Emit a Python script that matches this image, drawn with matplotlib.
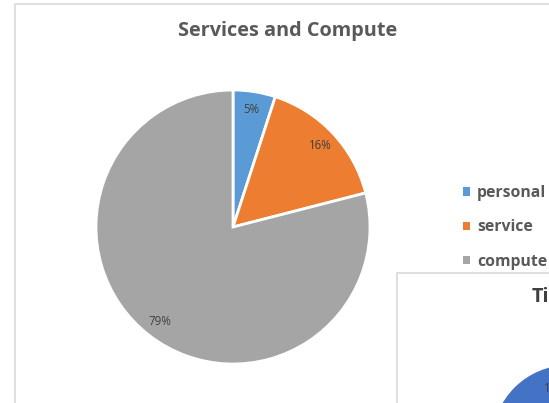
import matplotlib.pyplot as plt
from matplotlib.patches import Patch, Rectangle, Circle

# Data
categories = ["personal", "service", "compute"]
shares = [5, 16, 79]
colors = ["#5b9bd5", "#ed7d31", "#a5a5a5"]
title = "Services and Compute"

W, H = 549, 403
fig = plt.figure(figsize=(W / 100, H / 100), dpi=100)
fig.patch.set_facecolor("white")

# background layer in pixel coords (chart borders, overlapping chart)
bg = fig.add_axes([0, 0, 1, 1], zorder=0)
bg.set_xlim(0, W)
bg.set_ylim(H, 0)
bg.axis("off")
bg.plot([14.5, 14.5, W], [H, 3.5, 3.5], color="#d9d9d9", lw=1.2)

# main pie: centre (233, 227) px, radius 137 px
cx, cy, r = 233, 227, 137
pad = 1.08
side = r * pad
ax = fig.add_axes([(cx - side) / W, (H - cy - side) / H, 2 * side / W, 2 * side / H], zorder=2)
wedges, texts, autotexts = ax.pie(
    shares, colors=colors, startangle=90, counterclock=False,
    autopct="%1.0f%%", pctdistance=0.87,
    wedgeprops=dict(edgecolor="white", linewidth=2),
    textprops=dict(color="#404040", fontsize=8.3, family="Open Sans"),
)
ax.set_xlim(-pad, pad)
ax.set_ylim(-pad, pad)
ax.set_aspect("auto")

fig.text(288 / W, 1 - 31 / H, title, ha="center", va="center",
         fontsize=14.3, fontweight="bold", color="#595959", family="Open Sans")

handles = [Patch(facecolor=c, edgecolor="none") for c in colors]
leg = fig.legend(handles, categories, loc="upper left",
                 bbox_to_anchor=(463 / W, 1 - 185 / H), frameon=False,
                 handlelength=0.45, handleheight=0.45, handletextpad=0.45,
                 labelspacing=1.17, borderaxespad=0, borderpad=0,
                 prop=dict(family="Open Sans", weight="bold", size=11.3))
for t in leg.get_texts():
    t.set_color("#595959")

# overlapping second chart in the lower right corner
top = fig.add_axes([0, 0, 1, 1], zorder=3)
top.set_xlim(0, W)
top.set_ylim(H, 0)
top.axis("off")
top.add_patch(Rectangle((396.5, 272.5), W, H, facecolor="white", edgecolor="#d9d9d9", lw=1.2))
top.add_patch(Circle((569, 442), 77, facecolor="#4472c4", edgecolor="none"))
top.text(532, 297, "Ti", ha="left", va="center", fontsize=14.3, fontweight="bold",
         color="#404040", family="Open Sans")
top.text(544, 388, "1", ha="left", va="center", fontsize=8.3, color="#404040", family="Open Sans")

fig.savefig("out.png", dpi=100)
